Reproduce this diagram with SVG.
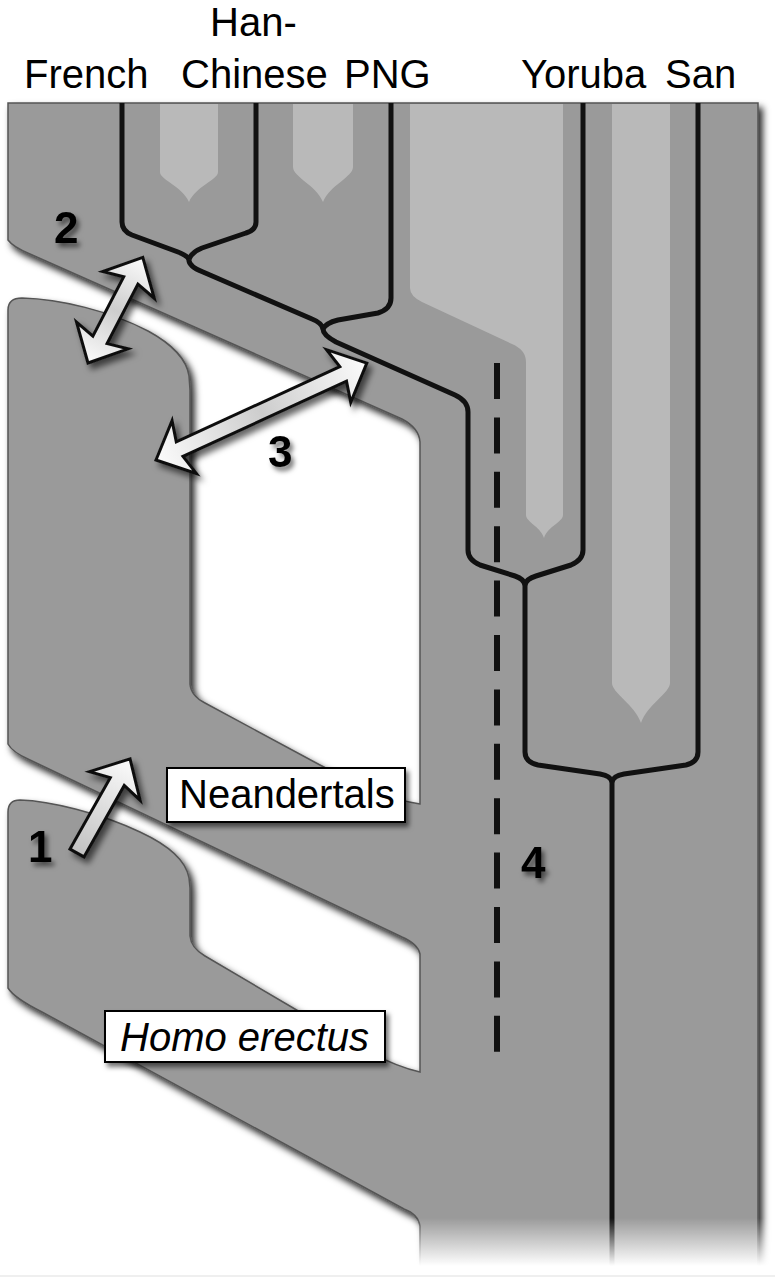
<svg xmlns="http://www.w3.org/2000/svg" width="775" height="1280" viewBox="0 0 775 1280">
<defs>
<style>
.lab{font-family:"Liberation Sans",Arial,sans-serif;font-size:40px;fill:#000}
.num{font-family:"Liberation Sans",Arial,sans-serif;font-size:44px;font-weight:bold;fill:#000}
.ln{fill:none;stroke:#111;stroke-width:5;stroke-linejoin:round}
.light{fill:#b9b9b9}
.arrow{stroke:#111;stroke-width:3;stroke-linejoin:miter}
.box{fill:#fff;stroke:#000;stroke-width:2}
</style>
<filter id="bandShadow" x="-10%" y="-10%" width="120%" height="120%">
<feGaussianBlur in="SourceAlpha" stdDeviation="3.5"/>
<feOffset dx="4" dy="5" result="o"/>
<feFlood flood-color="#000" flood-opacity="0.85"/>
<feComposite in2="o" operator="in"/>
<feMerge><feMergeNode/><feMergeNode in="SourceGraphic"/></feMerge>
</filter>
<filter id="soft" x="-30%" y="-30%" width="160%" height="160%">
<feDropShadow dx="4" dy="5" stdDeviation="3" flood-color="#000" flood-opacity="0.6"/>
</filter>
<filter id="txtShadow" x="-30%" y="-30%" width="160%" height="160%">
<feDropShadow dx="3" dy="4" stdDeviation="2.5" flood-color="#000" flood-opacity="0.55"/>
</filter>
<linearGradient id="fade" gradientUnits="userSpaceOnUse" x1="0" y1="1218" x2="0" y2="1266">
<stop offset="0" stop-color="#fff"/><stop offset="1" stop-color="#000"/>
</linearGradient>
<mask id="fadeMask" maskUnits="userSpaceOnUse" x="0" y="0" width="775" height="1280">
<rect width="775" height="1280" fill="url(#fade)"/>
</mask>
<linearGradient id="dbl" x1="0" y1="0" x2="1" y2="0">
<stop offset="0" stop-color="#fbfbfb"/><stop offset="0.5" stop-color="#cdcdcd"/><stop offset="1" stop-color="#fbfbfb"/>
</linearGradient>
<linearGradient id="sgl" x1="0" y1="0" x2="1" y2="0">
<stop offset="0" stop-color="#c2c2c2"/><stop offset="1" stop-color="#fbfbfb"/>
</linearGradient>
</defs>
<rect width="775" height="1280" fill="#fff"/>
<rect x="0" y="1275" width="775" height="2" fill="#efefef"/>

<g mask="url(#fadeMask)">
<g id="band">
<path filter="url(#bandShadow)" fill="#9a9a9a" stroke="#555" stroke-width="1.5" d="M8,103 H758 V1280 H420 V1226 Q418,1214 404,1209 L42,1012 Q14,998 8,988 V812 Q8,800 20,800 C50,801 100,813 140,832 C168,845 186,860 189,878 L190,888 V936 Q191,948 205,956 L300,1012 C350,1042 385,1064 420,1072 V954 Q418,944 402,937 L30,760 Q12,752 8,744 V310 Q8,298 22,298 C60,299 110,311 148,331 C172,344 187,360 189,376 L190,390 V684 Q191,696 205,703 L320,765 C360,786 392,800 420,804 V442 Q419,428 402,419 L30,254 Q13,247 8,240 Z"/>
</g>
<g id="stripes">
<path class="light" d="M160,104 H218 V172 C218,180 196,186 189,202 C182,186 160,180 160,172 Z"/>
<path class="light" d="M293,104 H353 V167 C353,177 330,185 323,202 C316,185 293,177 293,167 Z"/>
<path class="light" d="M410,104 H563 V515 C563,522 548,526 544,538 C540,526 526,522 526,515 V362 Q526,350 512,344 L422,302 Q410,296 410,288 Z"/>
<path class="light" d="M612,104 H670 V683 C670,693 647,705 641,723 C635,705 612,693 612,683 Z"/>
</g>
<g id="connectors">
<path class="ln" d="M122,103 V222 Q122,231 132,235 L178,252 Q186,255 189,259"/>
<path class="ln" d="M256,103 V222 Q256,230 246,233 L202,248 Q192,252 189,259"/>
<path class="ln" d="M189,259 Q188,266 203,272 L312,319 Q322,323 323,329"/>
<path class="ln" d="M391,103 V298 Q391,309 378,313 L338,320 Q326,323 323,329"/>
<path class="ln" d="M323,329 Q323,335 336,342 L455,395 Q468,401 468,412 V550 Q468,560 480,565 L515,576 Q524,579 525,585"/>
<path class="ln" d="M583,103 V550 Q583,560 571,565 L536,576 Q526,579 525,585"/>
<path class="ln" d="M525,585 V752 Q525,762 538,765 L600,774 Q611,776 612,782"/>
<path class="ln" d="M698,103 V752 Q698,762 686,765 L624,774 Q613,776 612,782"/>
<path class="ln" d="M612,782 V1280"/>
<path fill="none" stroke="#111" stroke-width="6" stroke-dasharray="36 18.4" d="M497,363 V1052"/>
</g>
</g>

<g id="arrow2" filter="url(#soft)">
<path class="arrow" fill="url(#dbl)" transform="translate(88,363) rotate(-62.58)" d="M0,0 L31,-29 L26,-8 L93,-8 L88,-29 L119,0 L88,29 L93,8 L26,8 L31,29 Z"/>
</g>
<g id="arrow3" filter="url(#soft)">
<path class="arrow" fill="url(#dbl)" transform="translate(156,460) rotate(-24.69)" d="M0,0 L31,-29 L26,-8 L206,-8 L201,-29 L232,0 L201,29 L206,8 L26,8 L31,29 Z"/>
</g>
<g id="arrow1" filter="url(#soft)">
<path class="arrow" fill="url(#sgl)" transform="translate(77,853) rotate(-60.58)" d="M0,-8 L82,-8 L77,-29 L108,0 L77,29 L82,8 L0,8 Z"/>
</g>

<g id="label-neandertals">
<rect class="box" filter="url(#txtShadow)" x="167" y="768" width="238" height="54"/>
<text class="lab" x="179" y="808">Neandertals</text>
</g>
<g id="label-homo-erectus">
<rect class="box" filter="url(#txtShadow)" x="105" y="1011" width="280" height="51"/>
<text class="lab" x="120" y="1051" font-style="italic">Homo erectus</text>
</g>

<g id="top-labels">
<text class="lab" x="24" y="88">French</text>
<text class="lab" x="210" y="36">Han-</text>
<text class="lab" x="181" y="88">Chinese</text>
<text class="lab" x="344" y="88">PNG</text>
<text class="lab" x="521" y="88">Yoruba</text>
<text class="lab" x="665" y="88">San</text>
</g>

<g id="numbers" filter="url(#txtShadow)">
<text class="num" x="54" y="243">2</text>
<text class="num" x="268" y="467">3</text>
<text class="num" x="28" y="862">1</text>
<text class="num" x="521" y="878">4</text>
</g>
</svg>
